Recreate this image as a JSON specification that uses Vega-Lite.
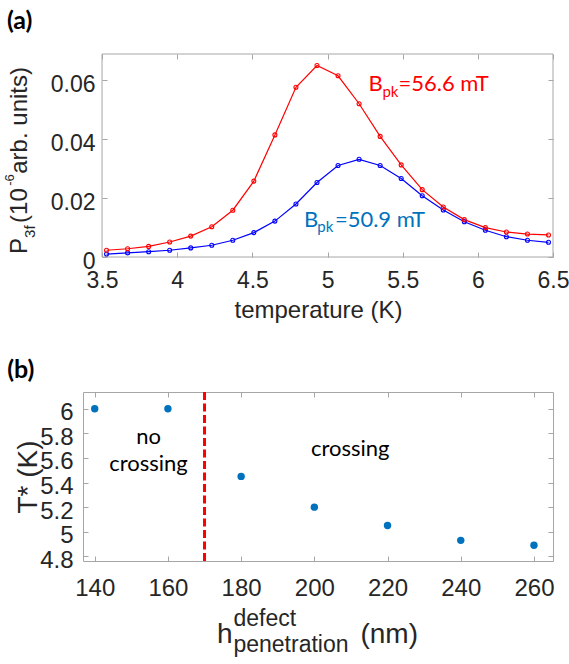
{
  "$schema": "https://vega.github.io/schema/vega-lite/v6.json",
  "background": "white",
  "padding": {"left": 3, "top": 8, "right": 0, "bottom": 0},
  "spacing": 35,
  "config": {
    "view": {"stroke": null},
    "axis": {
      "grid": false,
      "labelFlush": false,
      "labelFont": "Liberation Sans",
      "titleFont": "Liberation Sans",
      "labelColor": "#262626",
      "titleColor": "#262626",
      "titleFontWeight": "normal",
      "domainColor": "#a6a6a6",
      "tickColor": "#a6a6a6",
      "domainWidth": 1,
      "tickWidth": 1
    },
    "text": {"font": "Lato"}
  },
  "datasets": {
    "curves": [
      {"T": 3.53, "P": 0.0010, "series": "50.9"},
      {"T": 3.67, "P": 0.0014, "series": "50.9"},
      {"T": 3.81, "P": 0.0018, "series": "50.9"},
      {"T": 3.95, "P": 0.0023, "series": "50.9"},
      {"T": 4.09, "P": 0.0031, "series": "50.9"},
      {"T": 4.23, "P": 0.0040, "series": "50.9"},
      {"T": 4.37, "P": 0.0057, "series": "50.9"},
      {"T": 4.51, "P": 0.0083, "series": "50.9"},
      {"T": 4.65, "P": 0.0122, "series": "50.9"},
      {"T": 4.79, "P": 0.0180, "series": "50.9"},
      {"T": 4.93, "P": 0.0253, "series": "50.9"},
      {"T": 5.07, "P": 0.0311, "series": "50.9"},
      {"T": 5.21, "P": 0.0332, "series": "50.9"},
      {"T": 5.35, "P": 0.0311, "series": "50.9"},
      {"T": 5.49, "P": 0.0267, "series": "50.9"},
      {"T": 5.63, "P": 0.0208, "series": "50.9"},
      {"T": 5.77, "P": 0.0160, "series": "50.9"},
      {"T": 5.91, "P": 0.0120, "series": "50.9"},
      {"T": 6.05, "P": 0.0091, "series": "50.9"},
      {"T": 6.19, "P": 0.0069, "series": "50.9"},
      {"T": 6.33, "P": 0.0057, "series": "50.9"},
      {"T": 6.47, "P": 0.0050, "series": "50.9"},
      {"T": 3.53, "P": 0.0023, "series": "56.6"},
      {"T": 3.67, "P": 0.0028, "series": "56.6"},
      {"T": 3.81, "P": 0.0036, "series": "56.6"},
      {"T": 3.95, "P": 0.0051, "series": "56.6"},
      {"T": 4.09, "P": 0.0071, "series": "56.6"},
      {"T": 4.23, "P": 0.0103, "series": "56.6"},
      {"T": 4.37, "P": 0.0159, "series": "56.6"},
      {"T": 4.51, "P": 0.0258, "series": "56.6"},
      {"T": 4.65, "P": 0.0415, "series": "56.6"},
      {"T": 4.79, "P": 0.0577, "series": "56.6"},
      {"T": 4.93, "P": 0.0651, "series": "56.6"},
      {"T": 5.07, "P": 0.0616, "series": "56.6"},
      {"T": 5.21, "P": 0.0521, "series": "56.6"},
      {"T": 5.35, "P": 0.0410, "series": "56.6"},
      {"T": 5.49, "P": 0.0313, "series": "56.6"},
      {"T": 5.63, "P": 0.0229, "series": "56.6"},
      {"T": 5.77, "P": 0.0170, "series": "56.6"},
      {"T": 5.91, "P": 0.0127, "series": "56.6"},
      {"T": 6.05, "P": 0.0100, "series": "56.6"},
      {"T": 6.19, "P": 0.0085, "series": "56.6"},
      {"T": 6.33, "P": 0.0078, "series": "56.6"},
      {"T": 6.47, "P": 0.0075, "series": "56.6"}
    ],
    "labelsA_main": [
      {"T": 5.273, "P": 0.05636, "t": "B", "series": "56.6"},
      {"T": 5.472, "P": 0.05636, "t": "=56.6 mT", "series": "56.6"},
      {"T": 4.844, "P": 0.01033, "t": "B", "series": "50.9"},
      {"T": 5.049, "P": 0.01033, "t": "=50.9 mT", "series": "50.9"}
    ],
    "labelsA_sub": [
      {"T": 5.365, "P": 0.05455, "t": "pk", "series": "56.6"},
      {"T": 4.932, "P": 0.00852, "t": "pk", "series": "50.9"}
    ],
    "ytitleA_main": [
      {"T": 2.999, "P": 0.00102, "t": "P"},
      {"T": 2.999, "P": 0.01159, "t": "(10"},
      {"T": 2.999, "P": 0.0283, "t": "arb. units)"}
    ],
    "ytitleA_sub": [
      {"T": 3.055, "P": 0.00648, "t": "3f"}
    ],
    "ytitleA_sup": [
      {"T": 2.911, "P": 0.0242, "t": "-6"}
    ],
    "panelA_tag": [
      {"T": 2.867, "P": 0.0776, "t": "(a)"}
    ],
    "tstar": [
      {"h": 140, "Tstar": 6.0},
      {"h": 160, "Tstar": 6.0},
      {"h": 180, "Tstar": 5.45},
      {"h": 200, "Tstar": 5.2},
      {"h": 220, "Tstar": 5.05},
      {"h": 240, "Tstar": 4.93},
      {"h": 260, "Tstar": 4.89}
    ],
    "boundary": [{"h": 170}],
    "regionsB": [
      {"h": 154.7, "Tstar": 5.711, "t": "no"},
      {"h": 154.7, "Tstar": 5.494, "t": "crossing"},
      {"h": 209.8, "Tstar": 5.615, "t": "crossing"}
    ],
    "xtitleB_main": [
      {"h": 173.4, "Tstar": 4.095, "t": "h"},
      {"h": 212.6, "Tstar": 4.095, "t": "(nm)"}
    ],
    "xtitleB_small": [
      {"h": 177.9, "Tstar": 4.234, "t": "defect"},
      {"h": 177.9, "Tstar": 4.022, "t": "penetration"}
    ],
    "panelB_tag": [
      {"h": 116.1, "Tstar": 6.25, "t": "(b)"}
    ]
  },
  "vconcat": [
    {
      "width": 470,
      "height": 203,
      "resolve": {"axis": {"x": "independent", "y": "independent"}, "scale": {"color": "independent"}},
      "layer": [
        {
          "data": {"values": [{}]},
          "mark": {"type": "rect", "filled": false, "stroke": "#a6a6a6", "strokeWidth": 1},
          "encoding": {
            "x": {"datum": 3.5, "type": "quantitative", "axis": null},
            "x2": {"datum": 6.5},
            "y": {"datum": 0, "type": "quantitative", "axis": null},
            "y2": {"datum": 0.069}
          }
        },
        {
          "data": {"name": "curves"},
          "mark": {"type": "line", "strokeWidth": 1.2},
          "encoding": {
            "x": {"field": "T", "type": "quantitative",
                  "scale": {"domain": [3.3733, 6.5], "nice": false, "zero": false},
                  "axis": {"values": [3.5, 4, 4.5, 5, 5.5, 6, 6.5], "format": "~g", "domain": false, "labelFontSize": 23, "labelPadding": 17, "tickSize": -5, "title": "temperature (K)", "titleFontSize": 24, "titlePadding": 6}},
            "y": {"field": "P", "type": "quantitative",
                  "scale": {"domain": [0, 0.069], "nice": false},
                  "axis": {"values": [0, 0.02, 0.04, 0.06], "format": "~g", "domain": false, "offset": -19, "labelFontSize": 23, "labelPadding": 12, "labelOffset": 4, "tickSize": -5, "title": null}},
            "color": {"field": "series", "type": "nominal", "scale": {"domain": ["56.6", "50.9"], "range": ["#ff0000", "#0000ff"]}, "legend": null}
          }
        },
        {
          "data": {"name": "curves"},
          "mark": {"type": "point", "filled": false, "size": 16, "strokeWidth": 1.1, "opacity": 1},
          "encoding": {
            "x": {"field": "T", "type": "quantitative", "axis": {"orient": "top", "domain": false, "labels": false, "title": null, "values": [3.5, 4, 4.5, 5, 5.5, 6, 6.5], "tickSize": -5}},
            "y": {"field": "P", "type": "quantitative", "axis": {"orient": "right", "domain": false, "labels": false, "title": null, "values": [0, 0.02, 0.04, 0.06], "tickSize": -5}},
            "color": {"field": "series", "type": "nominal", "scale": {"domain": ["56.6", "50.9"], "range": ["#ff0000", "#0000ff"]}, "legend": null}
          }
        },
        {
          "data": {"name": "labelsA_main"},
          "mark": {"type": "text", "fontSize": 22, "align": "left", "baseline": "alphabetic"},
          "encoding": {
            "x": {"field": "T", "type": "quantitative", "axis": null},
            "y": {"field": "P", "type": "quantitative", "axis": null},
            "text": {"field": "t"},
            "color": {"field": "series", "type": "nominal", "scale": {"domain": ["56.6", "50.9"], "range": ["#ff0000", "#0072BD"]}, "legend": null}
          }
        },
        {
          "data": {"name": "labelsA_sub"},
          "mark": {"type": "text", "fontSize": 15, "align": "left", "baseline": "alphabetic"},
          "encoding": {
            "x": {"field": "T", "type": "quantitative", "axis": null},
            "y": {"field": "P", "type": "quantitative", "axis": null},
            "text": {"field": "t"},
            "color": {"field": "series", "type": "nominal", "scale": {"domain": ["56.6", "50.9"], "range": ["#ff0000", "#0072BD"]}, "legend": null}
          }
        },
        {
          "data": {"name": "ytitleA_main"},
          "mark": {"type": "text", "font": "Liberation Sans", "fontSize": 24, "angle": 270, "align": "left", "baseline": "alphabetic", "color": "#262626"},
          "encoding": {
            "x": {"field": "T", "type": "quantitative", "axis": null},
            "y": {"field": "P", "type": "quantitative", "axis": null},
            "text": {"field": "t"}
          }
        },
        {
          "data": {"name": "ytitleA_sub"},
          "mark": {"type": "text", "font": "Liberation Sans", "fontSize": 15, "angle": 270, "align": "left", "baseline": "alphabetic", "color": "#262626"},
          "encoding": {
            "x": {"field": "T", "type": "quantitative", "axis": null},
            "y": {"field": "P", "type": "quantitative", "axis": null},
            "text": {"field": "t"}
          }
        },
        {
          "data": {"name": "ytitleA_sup"},
          "mark": {"type": "text", "font": "Liberation Sans", "fontSize": 13, "angle": 270, "align": "left", "baseline": "alphabetic", "color": "#262626"},
          "encoding": {
            "x": {"field": "T", "type": "quantitative", "axis": null},
            "y": {"field": "P", "type": "quantitative", "axis": null},
            "text": {"field": "t"}
          }
        },
        {
          "data": {"name": "panelA_tag"},
          "mark": {"type": "text", "fontSize": 25, "fontWeight": "bold", "align": "left", "baseline": "alphabetic", "color": "#000000"},
          "encoding": {
            "x": {"field": "T", "type": "quantitative", "axis": null},
            "y": {"field": "P", "type": "quantitative", "axis": null},
            "text": {"field": "t"}
          }
        }
      ]
    },
    {
      "width": 470,
      "height": 169,
      "resolve": {"axis": {"x": "independent", "y": "independent"}},
      "layer": [
        {
          "data": {"name": "boundary"},
          "mark": {"type": "rule", "color": "#ff0000", "strokeWidth": 3, "strokeDash": [8, 3.5]},
          "encoding": {
            "x": {"field": "h", "type": "quantitative", "axis": null}
          }
        },
        {
          "data": {"name": "tstar"},
          "mark": {"type": "point", "filled": true, "size": 55, "color": "#0072BD", "opacity": 1},
          "encoding": {
            "x": {"field": "h", "type": "quantitative",
                  "scale": {"domain": [136.8, 265.2], "nice": false, "zero": false},
                  "axis": {"values": [140, 160, 180, 200, 220, 240, 260], "labelFontSize": 24, "labelPadding": 20, "tickSize": -5, "title": null}},
            "y": {"field": "Tstar", "type": "quantitative",
                  "scale": {"domain": [4.762, 6.136], "nice": false, "zero": false},
                  "axis": {"values": [4.8, 5, 5.2, 5.4, 5.6, 5.8, 6], "format": "~g", "labelFontSize": 24, "labelPadding": 15, "labelOffset": 4, "tickSize": -5, "title": "T* (K)", "titleFontSize": 28, "titlePadding": -3}}
          }
        },
        {
          "data": {"name": "regionsB"},
          "mark": {"type": "text", "fontSize": 22, "align": "center", "baseline": "alphabetic", "color": "#000000"},
          "encoding": {
            "x": {"field": "h", "type": "quantitative", "axis": {"orient": "top", "labels": false, "title": null, "values": [140, 160, 180, 200, 220, 240, 260], "tickSize": -5}},
            "y": {"field": "Tstar", "type": "quantitative", "axis": {"orient": "right", "labels": false, "title": null, "values": [4.8, 5, 5.2, 5.4, 5.6, 5.8, 6], "tickSize": -5}},
            "text": {"field": "t"}
          }
        },
        {
          "data": {"name": "xtitleB_main"},
          "mark": {"type": "text", "font": "Liberation Sans", "fontSize": 28, "align": "left", "baseline": "alphabetic", "color": "#262626"},
          "encoding": {
            "x": {"field": "h", "type": "quantitative", "axis": null},
            "y": {"field": "Tstar", "type": "quantitative", "axis": null},
            "text": {"field": "t"}
          }
        },
        {
          "data": {"name": "xtitleB_small"},
          "mark": {"type": "text", "font": "Liberation Sans", "fontSize": 23, "align": "left", "baseline": "alphabetic", "color": "#262626"},
          "encoding": {
            "x": {"field": "h", "type": "quantitative", "axis": null},
            "y": {"field": "Tstar", "type": "quantitative", "axis": null},
            "text": {"field": "t"}
          }
        },
        {
          "data": {"name": "panelB_tag"},
          "mark": {"type": "text", "fontSize": 25, "fontWeight": "bold", "align": "left", "baseline": "alphabetic", "color": "#000000"},
          "encoding": {
            "x": {"field": "h", "type": "quantitative", "axis": null},
            "y": {"field": "Tstar", "type": "quantitative", "axis": null},
            "text": {"field": "t"}
          }
        }
      ]
    }
  ]
}
